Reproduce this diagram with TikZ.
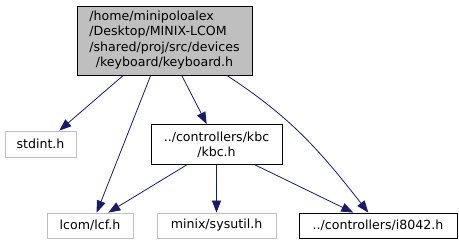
\documentclass[tikz,border=0pt]{standalone}
\usepackage{fontspec}
\setmainfont{DejaVu Sans}
\usetikzlibrary{arrows.meta}
\definecolor{edgeblue}{HTML}{191970}
\definecolor{fillgray}{HTML}{BFBFBF}
\definecolor{missinggray}{HTML}{BFBFBF}
\tikzset{
  filebox/.style={draw=black, line width=0.8pt, fill=white, inner sep=0pt,
    align=center, font=\fontsize{12.6}{15.2}\selectfont},
  rootbox/.style={filebox, fill=fillgray},
  extbox/.style={filebox, draw=missinggray},
  dep/.style={draw=edgeblue, line width=0.8pt,
    -{Triangle[length=12pt,width=9pt]}, edgeblue},
}
\begin{document}
\begin{tikzpicture}[x=1pt,y=-1pt]
  \useasboundingbox (0,0) rectangle (459,245);

  % nodes
  \node[rootbox, minimum width=175pt, minimum height=69pt] (root) at (164.5,40.5)
    {\begin{tabular}{@{}l@{}}
      /home/minipoloalex\\
      /Desktop/MINIX-LCOM\\
      /shared/proj/src/devices\\
      \multicolumn{1}{@{}c@{}}{/keyboard/keyboard.h}
    \end{tabular}};
  \node[extbox, minimum width=71pt, minimum height=26pt] (stdint) at (40.5,144) {stdint.h};
  \node[filebox, minimum width=131pt, minimum height=40pt] (kbc) at (216.5,144.5)
    {../controllers/kbc\\/kbc.h};
  \node[extbox, minimum width=86pt, minimum height=25pt] (lcf) at (90,225.5) {lcom/lcf.h};
  \node[extbox, minimum width=119pt, minimum height=25pt] (sysutil) at (216.5,225.5) {minix/sysutil.h};
  \node[filebox, minimum width=158pt, minimum height=25pt] (i8042) at (378,225.5) {../controllers/i8042.h};

  % include edges
  \draw[dep] ([xshift=-41.2pt]root.south) -- ([xshift=18.8pt]stdint.north);
  \draw[dep] ([xshift=-13.8pt]root.south) -- ([xshift=6.7pt]lcf.north);
  \draw[dep] ([xshift=17.2pt]root.south) -- ([xshift=-9.8pt]kbc.north);
  \draw[dep] ([xshift=62.2pt]root.south) to[out=-33,in=128] ([xshift=-9.7pt]i8042.north);
  \draw[dep] ([xshift=-29.8pt]kbc.south) -- ([xshift=18.3pt]lcf.north);
  \draw[dep] (kbc.south) -- (sysutil.north);
  \draw[dep] ([xshift=38.5pt]kbc.south) -- ([xshift=-24.7pt]i8042.north);
\end{tikzpicture}
\end{document}
